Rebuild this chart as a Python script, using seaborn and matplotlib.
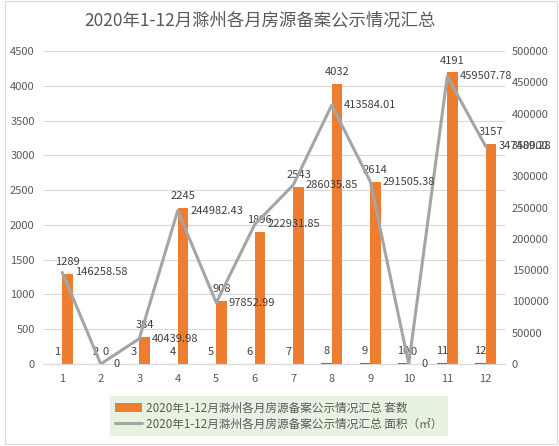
import matplotlib
matplotlib.use("Agg")
import matplotlib.pyplot as plt
import seaborn as sns
import pandas as pd
import numpy as np
from matplotlib.patches import Patch, Rectangle
from matplotlib.lines import Line2D

# données
mois = list(range(1, 13))
taoshu = [1289, 0, 384, 2245, 908, 1896, 2543, 4032, 2614, 0, 4191, 3157]
mianji = [146258.58, 0, 40439.98, 244982.43, 97852.99, 222931.85,
          286035.85, 413584.01, 291505.38, 0, 459507.78, 347489.28]

titre = "2020年1-12月滁州各月房源备案公示情况汇总"
lab_taoshu = titre + " 套数"
lab_mianji = titre + " 面积（㎡）"

sns.set_style("white")
plt.rcParams['font.family'] = ['Noto Sans CJK SC', 'DejaVu Sans']

bleu, orange, gris = "#4472C4", "#ED7D31", "#A5A5A5"
txt = "#595959"

df = pd.DataFrame({
    "mois": mois * 2,
    "serie": ["序号"] * 12 + ["套数"] * 12,
    "valeur": mois + taoshu,
})

fig = plt.figure(figsize=(5.59, 4.46), dpi=100)
ax = fig.add_axes([43 / 559, 82 / 446, 462 / 559, 313 / 446])

sns.barplot(data=df, x="mois", y="valeur", hue="serie", hue_order=["序号", "套数"],
            palette=[bleu, orange], saturation=1, width=0.54, legend=False,
            ax=ax, linewidth=0)
# petites barres bleues presque invisibles -> on épaissit le trait
for p in ax.patches[:12]:
    p.set_edgecolor(bleu)
    p.set_linewidth(0.8)

ax.set_ylim(0, 4500)
ax.set_yticks(np.arange(0, 4501, 500))
ax.yaxis.grid(True, color="#D9D9D9", linewidth=0.8)
ax.set_axisbelow(True)
ax.set_xlabel("")
ax.set_ylabel("")
for s in ["top", "left", "right"]:
    ax.spines[s].set_visible(False)
ax.spines["bottom"].set_color("#D9D9D9")
ax.tick_params(axis="both", length=0, labelsize=8, colors=txt)
ax.tick_params(axis="y", pad=6)
ax.tick_params(axis="x", pad=7)

# étiquettes des barres
for i, m in enumerate(mois):
    ax.annotate(str(m), (i - 0.135, m), xytext=(0, 5), textcoords="offset points",
                ha="center", va="bottom", fontsize=8, color="#404040")
    ax.annotate(str(taoshu[i]), (i + 0.135, taoshu[i]), xytext=(0, 5),
                textcoords="offset points", ha="center", va="bottom",
                fontsize=8, color="#404040")

ax2 = ax.twinx()
sns.lineplot(x=np.arange(12), y=mianji, color=gris, linewidth=2.2, ax=ax2)
ax2.set_ylim(0, 500000)
ax2.set_yticks(np.arange(0, 500001, 50000))
for s in ["top", "left", "right", "bottom"]:
    ax2.spines[s].set_visible(False)
ax2.tick_params(axis="y", length=0, labelsize=8, colors=txt, pad=5)
ax.set_xlim(-0.5, 11.5)

for i, v in enumerate(mianji):
    t = "0" if v == 0 else f"{v:.2f}"
    ax2.annotate(t, (i, v), xytext=(9, 0), textcoords="offset points",
                 ha="left", va="center", fontsize=8, color="#404040",
                 annotation_clip=False)

fig.text(0.465, 0.955, titre, ha="center", va="center", fontsize=12.5, color=txt)

handles = [Patch(facecolor=orange, edgecolor="none"),
           Line2D([0], [0], color=gris, linewidth=2.2)]
leg = fig.legend(handles, [lab_taoshu, lab_mianji], loc="center",
                 bbox_to_anchor=(279 / 559, 1 - 416 / 446), fontsize=8.4,
                 frameon=True, fancybox=False, handlelength=2.3,
                 handletextpad=0.35, handleheight=0.7, labelspacing=0.25,
                 borderpad=0.45, labelcolor=txt)
leg.get_frame().set_facecolor("#E2EFDA")
leg.get_frame().set_edgecolor("none")

fig.patches.append(Rectangle((5 / 559, 2 / 446), 552 / 559, 443 / 446,
                             transform=fig.transFigure, fill=False,
                             edgecolor="#D9D9D9", linewidth=0.8))

fig.savefig("out.png", dpi=100, facecolor="white")
